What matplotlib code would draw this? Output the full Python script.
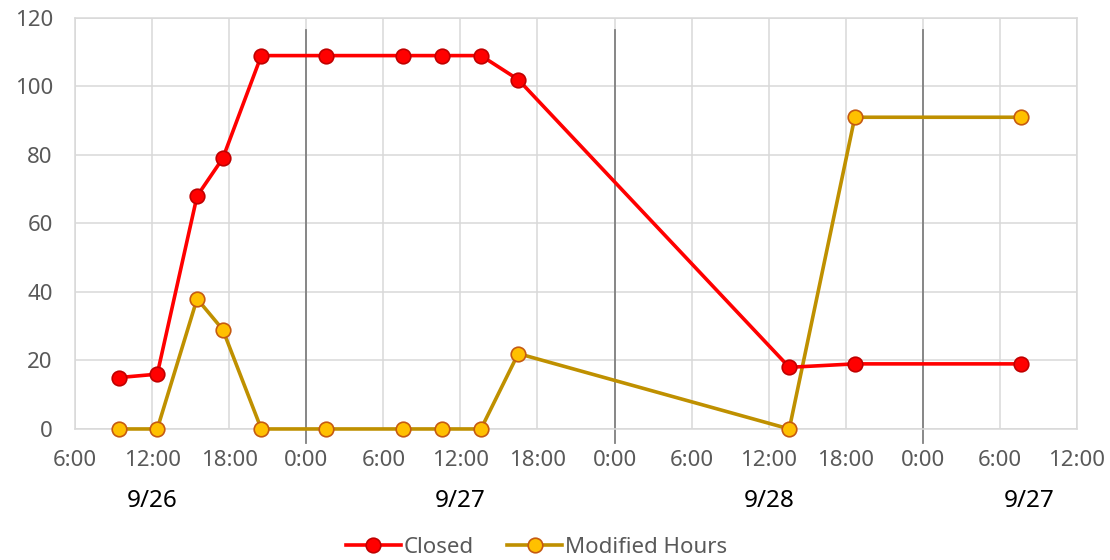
import numpy as np
import matplotlib.pyplot as plt

# hours since 9/26 0:00
stunden = [9.4, 12.4, 15.5, 17.5, 20.5, 25.5, 31.5, 34.6, 37.6, 40.5, 61.6, 66.7, 79.6]
closed = [15, 16, 68, 79, 109, 109, 109, 109, 109, 102, 18, 19, 19]
modified_hours = [0, 0, 38, 29, 0, 0, 0, 0, 0, 22, 0, 91, 91]

tick_pos = list(range(6, 85, 6))
tick_labels = ['6:00', '12:00', '18:00', '0:00', '6:00', '12:00', '18:00',
               '0:00', '6:00', '12:00', '18:00', '0:00', '6:00', '12:00']
tage = ['9/26', '9/27', '9/28', '9/27']
tag_pos = [12, 36, 60, 80.3]
trenner = [24, 48, 72]

plt.rcParams['font.family'] = ['Noto Sans', 'DejaVu Sans']

fig = plt.figure(figsize=(11.1, 5.6), dpi=100)
ax = fig.add_axes([0.0676, 0.234, 0.9027, 0.734])

ax.plot(stunden, closed, '-o', color='#FF0000', lw=2.6, ms=10.5,
        mfc='#FF0000', mec='#C00000', mew=1.2, label='Closed', zorder=4,
        clip_on=False)
ax.plot(stunden, modified_hours, '-o', color='#BF9000', lw=2.6, ms=10.5,
        mfc='#FFC000', mec='#C55A11', mew=1.2, label='Modified Hours', zorder=3,
        clip_on=False)

for t in trenner:
    ax.plot([t, t], [-4.1, 116.5], color='#808080', lw=1.3, clip_on=False, zorder=2)

ax.set_xlim(6, 84)
ax.set_ylim(0, 120)
ax.set_xticks(tick_pos)
ax.set_xticklabels(tick_labels)
ax.set_yticks(np.arange(0, 121, 20))
ax.grid(True, color='#D9D9D9', lw=1.1)
ax.set_axisbelow(True)
for s in ax.spines.values():
    s.set_color('#D9D9D9')
    s.set_linewidth(1.1)
ax.tick_params(length=0, labelsize=16, labelcolor='#595959')
ax.tick_params(axis='x', pad=15)
ax.tick_params(axis='y', pad=16)

for x, t in zip(tag_pos, tage):
    ax.text(x, -0.175, t, transform=ax.get_xaxis_transform(), ha='center',
            va='center', fontsize=17.5, color='black')

fig.legend(loc='center', bbox_to_anchor=(0.483, 0.022), ncol=2, frameon=False,
           fontsize=16, labelcolor='#595959', handlelength=2.5,
           handletextpad=0.1, columnspacing=1.5)

plt.savefig('out.png')
